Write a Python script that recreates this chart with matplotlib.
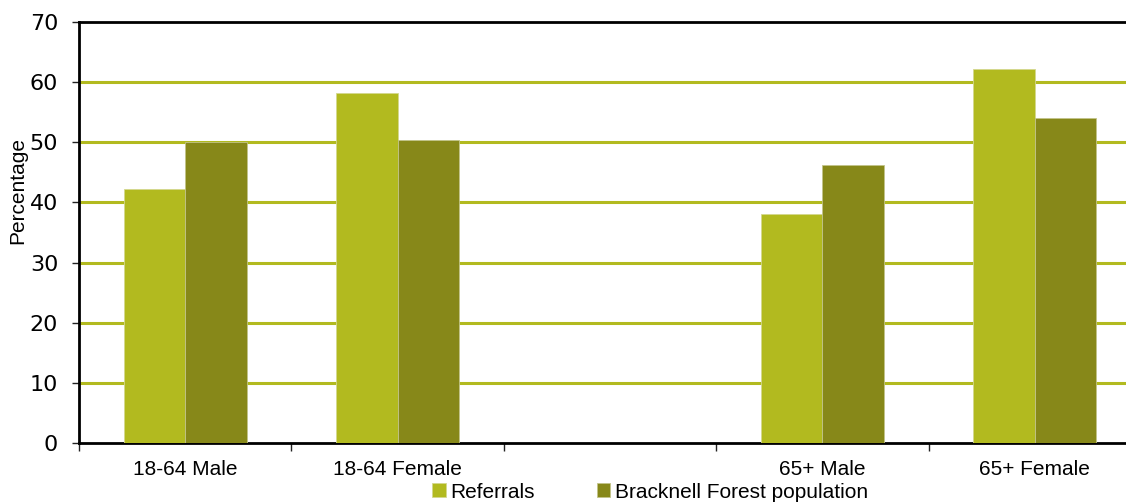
import matplotlib
matplotlib.use("Agg")
import matplotlib.pyplot as plt
import numpy as np

categories = ["18-64 Male", "18-64 Female", "", "65+ Male", "65+ Female"]
referrals = [42.2, 58.2, np.nan, 38.1, 62.2]
population = [50.0, 50.4, np.nan, 46.2, 54.0]
series_names = ["Referrals", "Bracknell Forest population"]
y_ticks = [0, 10, 20, 30, 40, 50, 60, 70]

col_ref = "#B2BA1F"
col_pop = "#878819"
col_grid = "#B2BA1F"

fig = plt.figure(figsize=(11.26, 5.04), dpi=100)
ax = fig.add_axes([79 / 1126, 1 - 443 / 504, 1062 / 1126, 421 / 504])

x = np.arange(len(categories))
w = 0.29
ax.bar(x - w / 2, referrals, w, color=col_ref, edgecolor="#d4d88f",
       linewidth=0.6, label=series_names[0], zorder=3)
ax.bar(x + w / 2, population, w, color=col_pop, edgecolor="#c2c48a",
       linewidth=0.6, label=series_names[1], zorder=3)

ax.set_xlim(-0.5, len(categories) - 0.5)
ax.set_ylim(0, 70)
ax.set_yticks(y_ticks)
ax.set_yticklabels([str(v) for v in y_ticks], fontfamily="DejaVu Sans", fontsize=16)

for v in y_ticks[1:-1]:
    ax.axhline(v, color=col_grid, linewidth=2.2, zorder=1)

ax.set_xticks(x)
ax.set_xticklabels(categories, fontfamily="Liberation Sans", fontsize=15)
ax.set_xticks(np.arange(-0.5, len(categories)), minor=True)
ax.tick_params(axis="x", which="major", length=0, pad=12)
ax.tick_params(axis="x", which="minor", length=5.5, width=1, direction="out", color="#222222")
ax.tick_params(axis="y", length=5, width=1, direction="out", pad=10, color="#222222")

for side in ["left", "bottom", "top"]:
    ax.spines[side].set_color("black")
    ax.spines[side].set_linewidth(2)
ax.spines["right"].set_visible(False)

ax.set_ylabel("Percentage", fontfamily="Liberation Sans", fontsize=15)
ax.yaxis.set_label_coords(-0.049, 0.599)

leg = fig.legend(loc="center", bbox_to_anchor=(650 / 1126, 1 - 492 / 504), ncol=2,
                 frameon=False, prop={"family": "Liberation Sans", "size": 15},
                 handlelength=0.65, handleheight=0.65, handletextpad=0.2,
                 columnspacing=3.0, borderpad=0)

fig.savefig("out.png", dpi=100)
